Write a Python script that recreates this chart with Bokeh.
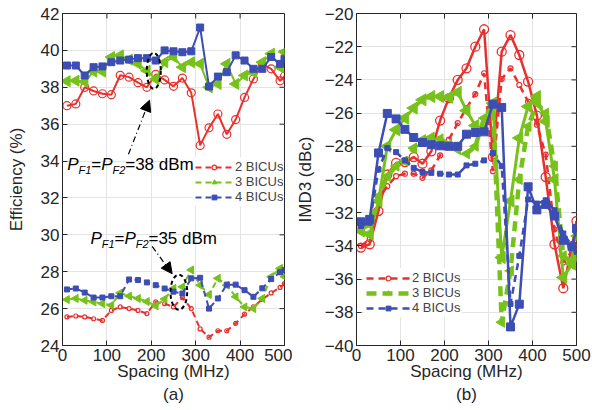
import numpy as np
from bokeh.plotting import figure
from bokeh.layouts import row
from bokeh.models import (Range1d, FixedTicker, Legend, LegendItem,
                          Label, Title, Arrow, NormalHead)
from bokeh.embed import file_html
from bokeh.resources import INLINE

# ---------------- data ----------------
spacing = [10, 30, 50, 70, 90, 110, 130, 150, 170, 190, 210, 230, 250, 270, 290,
           310, 330, 350, 370, 390, 410, 430, 450, 470, 490, 500]

# (a) efficiency, Pout = 38 dBm (solid)
eff38_2 = [37.0, 37.1, 38.0, 37.8, 37.65, 37.6, 38.65, 38.55, 38.25, 38.0, 38.7, 38.4, 38.05,
           38.5, 37.7, 34.85, 35.8, 36.55, 35.45, 36.25, 37.45, 38.45, 39.25, 39.0, 38.35, 38.6]
eff38_3 = [38.33, 38.36, 38.3, 38.85, 38.85, 39.64, 39.73, 39.5, 39.27, 38.9, 38.45, 39.36, 39.64,
           39.09, 39.36, 39.27, 38.0, 38.18, 39.27, 38.18, 38.64, 38.82, 39.36, 39.82, 39.09, 39.91]
eff38_4 = [39.18, 39.18, 38.64, 39.09, 39.13, 39.36, 39.45, 39.5, 39.58, 39.58, 39.45, 40.0, 39.95,
           39.9, 39.95, 41.24, 38.04, 38.58, 38.82, 39.73, 39.45, 39.0, 39.0, 39.64, 39.27, 39.55]
# (a) efficiency, Pout = 35 dBm (dashed)
eff35_2 = [25.55, 25.6, 25.55, 25.45, 25.36, 25.9, 26.09, 26.0, 25.9, 25.73, 26.36, 26.27, 26.09,
           26.6, 26.0, 24.9, 24.45, 24.8, 24.8, 25.2, 25.7, 26.1, 26.5, 26.85, 27.15, 27.35]
eff35_3 = [26.49, 26.55, 26.45, 26.36, 26.27, 26.18, 26.85, 26.68, 26.55, 26.38, 26.15, 26.52, 27.1,
           27.18, 28.1, 27.27, 26.76, 27.64, 27.27, 26.64, 26.09, 26.0, 26.55, 27.73, 28.18, 27.73]
eff35_4 = [27.04, 27.09, 26.87, 26.6, 26.6, 26.67, 26.67, 27.58, 27.55, 27.42, 27.27, 27.09, 26.92,
           26.82, 27.64, 27.67, 26.0, 26.55, 27.3, 27.3, 27.0, 26.64, 27.1, 27.6, 27.97, 28.1]

# (b) IMD3, solid and dashed
imd_s2 = [-34.1, -33.9, -31.9, -29.7, -29.0, -28.95, -28.65, -29.05, -28.3, -26.45, -25.1, -24.0, -23.3,
          -22.0, -20.95, -28.65, -22.3, -21.3, -22.5, -24.1, -26.15, -29.85, -33.9, -36.55, -34.0, -32.5]
imd_d2 = [-34.0, -33.6, -31.2, -30.4, -29.8, -29.65, -29.65, -29.9, -29.45, -28.55, -27.6, -26.6, -25.7,
          -24.85, -23.6, -29.5, -23.95, -23.3, -24.3, -25.3, -26.7, -28.5, -33.0, -35.0, -34.3, -33.8]
imd_s3 = [-33.1, -33.3, -31.3, -28.0, -27.0, -26.3, -25.7, -25.2, -25.0, -25.0, -25.05, -24.75, -25.85,
          -26.75, -27.0, -25.4, -34.7, -31.3, -27.5, -25.6, -25.0, -26.5, -30.0, -35.9, -35.1, -34.7]
imd_d3 = [-33.0, -32.7, -31.0, -29.8, -29.2, -28.9, -28.1, -27.6, -27.45, -27.55, -27.9, -28.2, -28.45,
          -28.0, -26.3, -25.5, -38.6, -35.5, -30.0, -26.8, -25.4, -26.0, -29.2, -34.6, -35.0, -33.4]
imd_s4 = [-32.55, -32.4, -28.4, -26.02, -26.35, -26.98, -27.47, -27.77, -27.9, -27.97, -28.0, -28.0, -27.27,
          -27.17, -27.13, -25.46, -25.66, -38.88, -37.51, -30.44, -31.83, -31.5, -32.2, -33.66, -34.05, -32.95]
imd_d4 = [-32.8, -32.6, -29.4, -28.1, -28.35, -28.85, -29.3, -29.55, -29.6, -29.65, -29.7, -29.7, -29.15,
          -29.05, -28.85, -28.4, -29.2, -37.5, -34.6, -31.2, -31.45, -31.25, -31.85, -33.25, -34.0, -34.35]

labels = ["2 BICUs", "3 BICUs", "4 BICUs"]
x_ticks = [0, 100, 200, 300, 400, 500]
eff_ticks = list(range(24, 43, 2))
imd_ticks = list(range(-40, -19, 2))

RED, GREEN, BLUE = "#E8302E", "#77C21A", "#3C4DB4"
AX = "#262626"
FONT = "Liberation Sans"
FRAME_W, FRAME_H = 222, 332
TICK = 5


def style(p, yr, yticks):
    p.background_fill_color = "white"
    p.border_fill_color = "white"
    p.outline_line_color = AX
    p.xgrid.grid_line_color = "#E4E4E4"
    p.ygrid.grid_line_color = "#E4E4E4"
    for ax in p.xaxis + p.yaxis:
        ax.axis_line_color = AX
        ax.major_tick_line_color = AX
        ax.major_tick_in = TICK
        ax.major_tick_out = 0
        ax.minor_tick_in = 0
        ax.minor_tick_out = 0
        ax.major_label_text_font = FONT
        ax.major_label_text_font_size = "17px"
        ax.major_label_text_color = AX
        ax.major_label_standoff = 3
        ax.axis_label_text_font = FONT
        ax.axis_label_text_font_size = "17px"
        ax.axis_label_text_font_style = "normal"
        ax.axis_label_text_color = AX
    # mirrored ticks on the top and right edges of the box
    dx = TICK * 500.0 / FRAME_W
    dy = TICK * (yr[1] - yr[0]) / FRAME_H
    p.segment(x0=x_ticks, y0=[yr[1]] * len(x_ticks), x1=x_ticks, y1=[yr[1] - dy] * len(x_ticks),
              line_color=AX, line_width=1)
    p.segment(x0=[500] * len(yticks), y0=yticks, x1=[500 - dx] * len(yticks), y1=yticks,
              line_color=AX, line_width=1)


def make_fig(yr, yticks, width, left, right, ylabel, sub):
    p = figure(width=width, height=410, x_range=Range1d(0, 500), y_range=Range1d(*yr),
               output_backend="svg", toolbar_location=None, title=None,
               min_border_left=left, min_border_right=right, min_border_top=13,
               min_border_bottom=65)
    p.xaxis.ticker = FixedTicker(ticks=x_ticks)
    p.yaxis.ticker = FixedTicker(ticks=yticks)
    p.xgrid.ticker = FixedTicker(ticks=x_ticks)
    p.ygrid.ticker = FixedTicker(ticks=yticks)
    p.xaxis.axis_label = "Spacing (MHz)"
    p.yaxis.axis_label = ylabel
    style(p, yr, yticks)
    p.xaxis.axis_label_standoff = -2
    p.add_layout(Title(text=sub, align="center", text_font=FONT, text_font_size="17px",
                       text_font_style="normal", text_color=AX, standoff=-2), "below")
    return p


LEFT = np.pi / 2

# ---------------- panel (a) ----------------
p1 = make_fig((24, 42), eff_ticks, 292, 62, 8, "Efficiency (%)", "(a)")
p1.yaxis[0].axis_label_standoff = 12

p1.line(spacing, eff38_2, color=RED, line_width=2)
p1.scatter(spacing, eff38_2, marker="circle", size=8, fill_color=None, line_color=RED, line_width=1.2)
p1.line(spacing, eff38_3, color=GREEN, line_width=2)
p1.scatter(spacing, eff38_3, marker="triangle", angle=LEFT, size=11, color=GREEN)
p1.line(spacing, eff38_4, color=BLUE, line_width=2)
p1.scatter(spacing, eff38_4, marker="square", size=7, color=BLUE)

r2l = p1.line(spacing, eff35_2, color=RED, line_width=2, line_dash="6 4")
r2m = p1.scatter(spacing, eff35_2, marker="circle", size=4, fill_color=None, line_color=RED, line_width=1.2)
r3l = p1.line(spacing, eff35_3, color=GREEN, line_width=2, line_dash="6 4")
r3m = p1.scatter(spacing, eff35_3, marker="triangle", angle=LEFT, size=8, color=GREEN)
r4l = p1.line(spacing, eff35_4, color=BLUE, line_width=2, line_dash="6 4")
r4m = p1.scatter(spacing, eff35_4, marker="square", size=5, color=BLUE)

# annotations
ell_x, ell_y, ell_w, ell_h = [205.6, 262.0], [38.89, 26.89], [31.5, 37.6], [1.95, 1.9]
p1.ellipse(ell_x, ell_y, width=ell_w, height=ell_h, fill_alpha=0, line_color="black",
           line_dash="4 3", line_width=2)
p1.add_layout(Arrow(x_start=148.6, y_start=34.37, x_end=196.0, y_end=37.3, line_dash="6 3 1 3",
                    line_width=1.2, end=NormalHead(size=11, fill_color="black", line_color="black")))
p1.add_layout(Arrow(x_start=202.0, y_start=29.37, x_end=247.0, y_end=27.89, line_dash="6 3 1 3",
                    line_width=1.2, end=NormalHead(size=11, fill_color="black", line_color="black")))


def pf_label(p, x, y, power):
    parts = [("P", 0, 0, "italic", "17px"), ("F1", 11.3, -5, "italic", "11px"),
             ("=", 24.0, 0, "normal", "17px"), ("P", 34.0, 0, "italic", "17px"),
             ("F2", 45.3, -5, "italic", "11px"), ("=%d dBm" % power, 58.0, 0, "normal", "17px")]
    for t, dx, dy, st, fs in parts:
        p.add_layout(Label(x=x, y=y, x_offset=dx, y_offset=dy + 6, text=t, text_font=FONT,
                           text_font_style=st, text_font_size=fs, text_color="black",
                           text_baseline="alphabetic"))


pf_label(p1, 10.6, 33.47, 38)
pf_label(p1, 63.0, 29.45, 35)

leg1 = Legend(items=[LegendItem(label=labels[0], renderers=[r2l, r2m]),
                     LegendItem(label=labels[1], renderers=[r3l, r3m]),
                     LegendItem(label=labels[2], renderers=[r4l, r4m])],
              location=(131, 139), glyph_width=38, glyph_height=12, label_height=12,
              label_text_font=FONT, label_text_font_size="13px", label_standoff=2,
              spacing=0, padding=2, margin=0, border_line_alpha=0,
              background_fill_color="white", background_fill_alpha=1)
p1.add_layout(leg1)

# ---------------- panel (b) ----------------
p2 = make_fig((-40, -20), imd_ticks, 300, 62, 16, "IMD3 (dBc)", "(b)")
p2.yaxis[0].major_label_overrides = {v: "\u2212%d" % abs(v) for v in imd_ticks}
p2.yaxis[0].axis_label_standoff = 7

p2.line(spacing, imd_s2, color=RED, line_width=2.5)
p2.scatter(spacing, imd_s2, marker="circle", size=9, fill_color=None, line_color=RED, line_width=1.3)
q2l = p2.line(spacing, imd_d2, color=RED, line_width=2.5, line_dash="7 5")
q2m = p2.scatter(spacing, imd_d2, marker="circle", size=5, fill_color=None, line_color=RED, line_width=1.2)

p2.line(spacing, imd_s3, color=GREEN, line_width=3)
p2.scatter(spacing, imd_s3, marker="triangle", angle=LEFT, size=12, color=GREEN)
q3l = p2.line(spacing, imd_d3, color=GREEN, line_width=4.5, line_dash="10 6")
q3m = p2.scatter(spacing, imd_d3, marker="triangle", angle=LEFT, size=10, color=GREEN)

p2.line(spacing, imd_s4, color=BLUE, line_width=2.5)
p2.scatter(spacing, imd_s4, marker="square", size=8, color=BLUE)
q4l = p2.line(spacing, imd_d4, color=BLUE, line_width=2.5, line_dash="7 5")
q4m = p2.scatter(spacing, imd_d4, marker="square", size=5, color=BLUE)

leg2 = Legend(items=[LegendItem(label=labels[0], renderers=[q2l, q2m]),
                     LegendItem(label=labels[1], renderers=[q3l, q3m]),
                     LegendItem(label=labels[2], renderers=[q4l, q4m])],
              location=(8, 28), glyph_width=44, glyph_height=12, label_height=12,
              label_text_font=FONT, label_text_font_size="13px", label_standoff=2,
              spacing=0, padding=2, margin=0, border_line_alpha=0,
              background_fill_color="white", background_fill_alpha=1)
p2.add_layout(leg2)

layout = row(p1, p2)
open("out.html", "w").write(file_html(layout, INLINE))
